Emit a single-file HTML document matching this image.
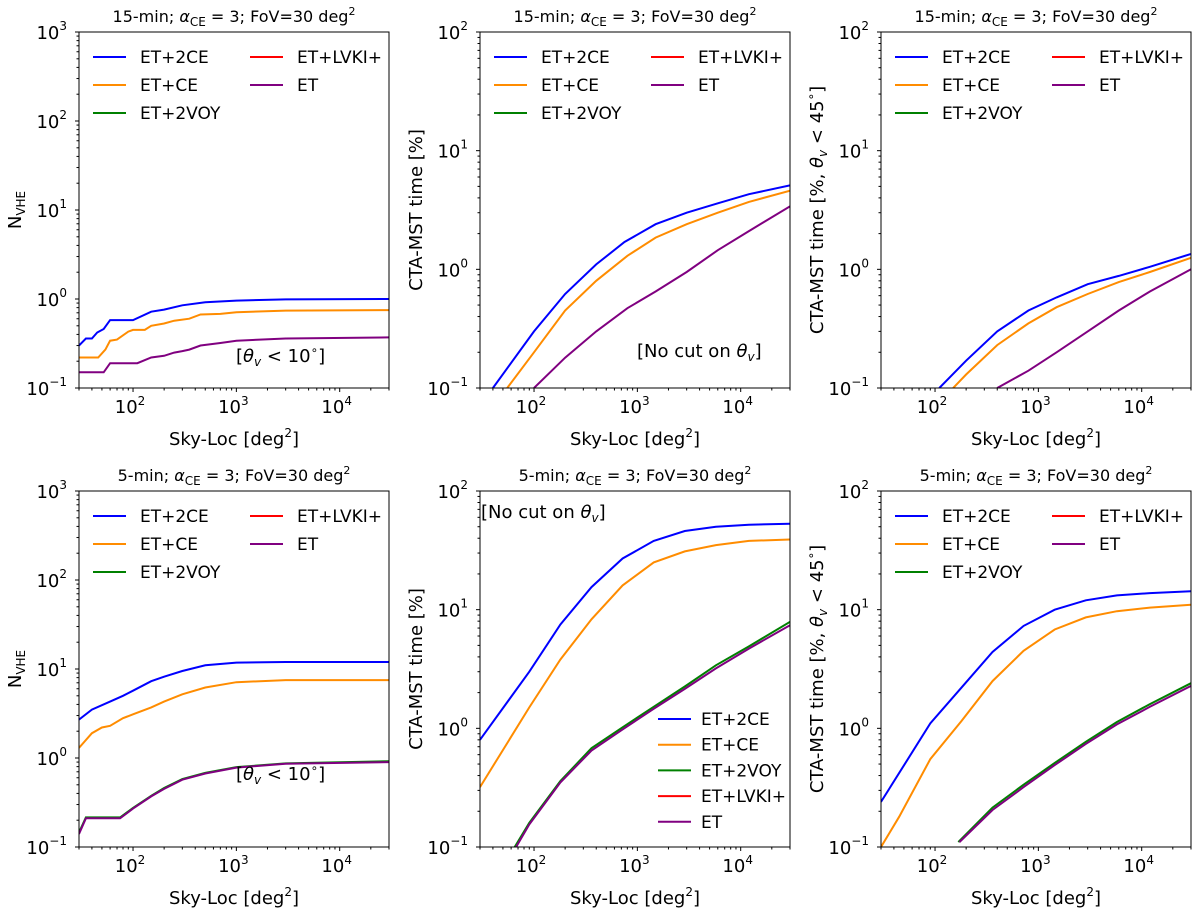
<!DOCTYPE html>
<html><head><meta charset="utf-8"><style>
body{margin:0;background:#fff}
svg{font-family:"DejaVu Sans","Liberation Sans",sans-serif}
</style></head><body>
<svg id="fig" width="1200" height="916" viewBox="0 0 1200 916" xmlns="http://www.w3.org/2000/svg"></svg>
<script>
const xTickLabels=["10","10","10"];
const xTickExps=["2","3","4"];
// series data per panel: [x, y]
const p1Blue=[[30,0.3],[35,0.36],[40,0.36],[45,0.42],[52,0.46],[60,0.58],[100,0.58],[150,0.72],[200,0.76],[300,0.85],[500,0.92],[1000,0.96],[3000,0.99],[30000,1.0]];
const p1Orange=[[30,0.22],[46,0.22],[54,0.27],[60,0.34],[70,0.35],[90,0.43],[100,0.45],[130,0.45],[150,0.5],[200,0.53],[250,0.57],[350,0.6],[450,0.67],[700,0.68],[1000,0.71],[3000,0.74],[30000,0.75]];
const p1Purple=[[30,0.15],[52,0.15],[60,0.19],[110,0.19],[150,0.22],[200,0.23],[250,0.25],[300,0.26],[350,0.27],[450,0.3],[700,0.32],[1000,0.34],[3000,0.36],[30000,0.37]];
const p2Blue=[[40,0.1],[100,0.3],[200,0.62],[400,1.1],[750,1.7],[1500,2.4],[3000,3.0],[6000,3.6],[12000,4.3],[30000,5.1]];
const p2Orange=[[55,0.1],[100,0.2],[200,0.45],[400,0.8],[800,1.3],[1500,1.85],[3000,2.4],[6000,3.0],[12000,3.7],[30000,4.6]];
const p2Purple=[[100,0.1],[200,0.18],[400,0.3],[800,0.47],[1500,0.65],[3000,0.95],[6000,1.45],[12000,2.1],[30000,3.4]];
const p3Blue=[[110,0.1],[200,0.17],[400,0.3],[800,0.45],[1500,0.58],[3000,0.75],[6000,0.88],[12000,1.05],[30000,1.35]];
const p3Orange=[[150,0.1],[200,0.13],[400,0.23],[800,0.35],[1500,0.48],[3000,0.62],[6000,0.78],[12000,0.95],[30000,1.25]];
const p3Purple=[[400,0.1],[800,0.14],[1500,0.2],[3000,0.3],[6000,0.45],[12000,0.65],[30000,1.0]];
const p4Blue=[[30,2.7],[40,3.5],[60,4.3],[80,5],[100,5.7],[150,7.3],[200,8.2],[300,9.5],[500,11],[1000,11.8],[3000,12],[30000,12]];
const p4Orange=[[30,1.3],[40,1.9],[50,2.2],[60,2.3],[80,2.8],[100,3.1],[150,3.7],[200,4.3],[300,5.2],[500,6.2],[1000,7.1],[3000,7.5],[30000,7.5]];
const p4Green=[[30,0.145],[35,0.215],[75,0.215],[100,0.275],[150,0.375],[200,0.46],[300,0.58],[500,0.68],[1000,0.79],[3000,0.87],[30000,0.92]];
const p4Purple=[[30,0.14],[35,0.21],[75,0.21],[100,0.27],[150,0.37],[200,0.45],[300,0.57],[500,0.67],[1000,0.78],[3000,0.86],[30000,0.9]];
const p5Blue=[[30,0.8],[90,3],[180,7.5],[360,15.5],[720,27],[1440,38],[2880,46],[5760,50],[12000,52],[30000,53]];
const p5Orange=[[30,0.32],[90,1.5],[180,3.8],[360,8.3],[720,16],[1440,25],[2880,31],[5760,35],[12000,38],[30000,39]];
const p5Green=[[65,0.1],[90,0.16],[180,0.36],[360,0.68],[720,1.02],[1440,1.52],[2880,2.25],[5760,3.4],[12000,4.9],[30000,7.9]];
const p5Purple=[[67,0.1],[90,0.155],[180,0.35],[360,0.65],[720,0.98],[1440,1.46],[2880,2.15],[5760,3.2],[12000,4.7],[30000,7.4]];
const p6Blue=[[30,0.24],[90,1.1],[180,2.2],[360,4.4],[720,7.3],[1440,10],[2880,12],[5760,13.2],[12000,13.8],[30000,14.3]];
const p6Orange=[[30,0.1],[45,0.18],[90,0.55],[180,1.15],[360,2.5],[720,4.5],[1440,6.8],[2880,8.6],[5760,9.7],[12000,10.4],[30000,11]];
const p6Green=[[168,0.11],[360,0.215],[720,0.335],[1440,0.51],[2880,0.77],[5760,1.13],[12000,1.6],[30000,2.4]];
const p6Purple=[[172,0.11],[360,0.205],[720,0.32],[1440,0.49],[2880,0.74],[5760,1.08],[12000,1.52],[30000,2.28]];
const legendNames=["ET+2CE","ET+CE","ET+2VOY","ET+LVKI+","ET"];
const colors={blue:"#0000ff",orange:"#ff8c00",green:"#008000",red:"#ff0000",purple:"#800080"};

const NS="http://www.w3.org/2000/svg";
const fig=document.getElementById('fig');
function mk(tag,attrs,parent,text){const e=document.createElementNS(NS,tag);for(const k in attrs)e.setAttribute(k,attrs[k]);if(text!==undefined)e.textContent=text;(parent||fig).appendChild(e);return e;}

const panels=[
 {x:79,y:32,title:"15-min",ymin:-1,ymax:3,ylab:"N",series:[["blue",p1Blue],["orange",p1Orange],["purple",p1Purple]],leg:"two",ann:{t:"<10",x:236,y:362}},
 {x:480,y:32,title:"15-min",ymin:-1,ymax:2,ylab:"time",series:[["blue",p2Blue],["orange",p2Orange],["purple",p2Purple]],leg:"two",ann:{t:"nocut",x:637,y:357}},
 {x:881,y:32,title:"15-min",ymin:-1,ymax:2,ylab:"time45",series:[["blue",p3Blue],["orange",p3Orange],["purple",p3Purple]],leg:"two"},
 {x:79,y:491,title:"5-min",ymin:-1,ymax:3,ylab:"N",series:[["blue",p4Blue],["orange",p4Orange],["green",p4Green],["purple",p4Purple]],leg:"two",ann:{t:"<10",x:236,y:780}},
 {x:480,y:491,title:"5-min",ymin:-1,ymax:2,ylab:"time",series:[["blue",p5Blue],["orange",p5Orange],["green",p5Green],["purple",p5Purple]],leg:"one",ann:{t:"nocut",x:481,y:518}},
 {x:881,y:491,title:"5-min",ymin:-1,ymax:2,ylab:"time45",series:[["blue",p6Blue],["orange",p6Orange],["green",p6Green],["purple",p6Purple]],leg:"two"}
];
const W=310,H=356,XMIN=Math.log10(30),XMAX=Math.log10(30000);

panels.forEach((p,i)=>{
 const g=mk('g',{},fig);
 
 
 const sx=v=>p.x+(Math.log10(v)-XMIN)/(XMAX-XMIN)*W;
 const sy=v=>p.y+H-(Math.log10(v)-p.ymin)/(p.ymax-p.ymin)*H;
 const cid='clip'+i;
 const cp=mk('clipPath',{id:cid},g);mk('rect',{x:p.x,y:p.y,width:W,height:H},cp);
 const t=mk('text',{x:p.x+W/2,y:p.y-10,'text-anchor':'middle','font-size':16},g);
 
 t.innerHTML=p.title+'; <tspan font-style="italic">α</tspan><tspan font-size="12" dy="4">CE</tspan><tspan dy="-4"> = 3; FoV=30 deg</tspan><tspan font-size="11" dy="-7">2</tspan>';
 const sg=mk('g',{'clip-path':'url(#'+cid+')'},g);
 p.series.forEach(([c,d])=>{
  const pl=mk('polyline',{points:d.map(q=>sx(q[0]).toFixed(1)+','+sy(q[1]).toFixed(1)).join(' '),fill:'none',stroke:colors[c],'stroke-width':2},sg);
  
 });
 const fr=mk('rect',{x:p.x,y:p.y,width:W,height:H,fill:'none',stroke:'#000','stroke-width':1},g);
 
 for(let e=1;e<=4;e++){for(let m=1;m<10;m++){const v=m*Math.pow(10,e);if(v<30||v>30000)continue;const X=sx(v);mk('line',{x1:X,x2:X,y1:p.y+H,y2:p.y+H+(m==1?4:2.5),stroke:'#000'},g);}}
 xTickExps.forEach((ex,k)=>{const X=sx(Math.pow(10,+ex));const tx=mk('text',{x:X-3,y:p.y+H+25,'text-anchor':'middle','font-size':18},g);
  
  tx.innerHTML=xTickLabels[k]+'<tspan font-size="12" dy="-8">'+ex+'</tspan>';});
 const xl=mk('text',{x:p.x+W/2,y:p.y+H+57,'text-anchor':'middle','font-size':18},g);
 
 xl.innerHTML='Sky-Loc [deg<tspan font-size="12" dy="-8">2</tspan><tspan dy="8">]</tspan>';
 for(let e=p.ymin;e<=p.ymax;e++){const Y=sy(Math.pow(10,e));mk('line',{x1:p.x-4,x2:p.x,y1:Y,y2:Y,stroke:'#000'},g);
  const ty=mk('text',{x:p.x-12,y:Y+7,'text-anchor':'end','font-size':18},g);
  
  ty.innerHTML='10<tspan font-size="12" dy="-9">'+(e<0?'−'+(-e):e)+'</tspan>';
  if(e<p.ymax)for(let m=2;m<10;m++){const Ym=sy(m*Math.pow(10,e));mk('line',{x1:p.x-2.5,x2:p.x,y1:Ym,y2:Ym,stroke:'#000'},g);}
 }
 const yl=mk('text',{transform:`translate(${p.x-58},${p.y+H/2}) rotate(-90)`,'text-anchor':'middle','font-size':18},g);
 
 if(p.ylab=='N')yl.innerHTML='N<tspan font-size="12" dy="4">VHE</tspan>';
 else if(p.ylab=='time')yl.textContent='CTA-MST time [%]';
 else yl.innerHTML='CTA-MST time [%, <tspan font-style="italic">θ</tspan><tspan font-size="12" font-style="italic" dy="4">v</tspan><tspan dy="-4"> &lt; 45</tspan><tspan font-size="12" dy="-8">∘</tspan><tspan dy="8">]</tspan>';
 const lg=mk('g',{},g);
 const cols=["blue","orange","green","red","purple"];
 legendNames.forEach((n,k)=>{let lx,ly,off=47;
  if(p.leg=='two'){const pos=[[0,0],[0,1],[0,2],[1,0],[1,1]][k];lx=p.x+14+pos[0]*157;ly=p.y+25+pos[1]*28;}
  else{lx=p.x+178;ly=p.y+228+k*25.7;off=43;}
  const e=mk('g',{},lg);
  mk('line',{x1:lx,x2:lx+33,y1:ly,y2:ly,stroke:colors[cols[k]],'stroke-width':2},e);
  mk('text',{x:lx+off,y:ly+6,'font-size':17},e,n);
 });
 if(p.ann){const a=mk('text',{x:p.ann.x,y:p.ann.y,'font-size':18},g);
  a.innerHTML=p.ann.t=='<10'?'[<tspan font-style="italic">θ</tspan><tspan font-size="12" font-style="italic" dy="4">v</tspan><tspan dy="-4"> &lt; 10</tspan><tspan font-size="12" dy="-8">∘</tspan><tspan dy="8">]</tspan>':'[No cut on <tspan font-style="italic">θ</tspan><tspan font-size="12" font-style="italic" dy="4">v</tspan><tspan dy="-4">]</tspan>';}
});
</script>
</body></html>
